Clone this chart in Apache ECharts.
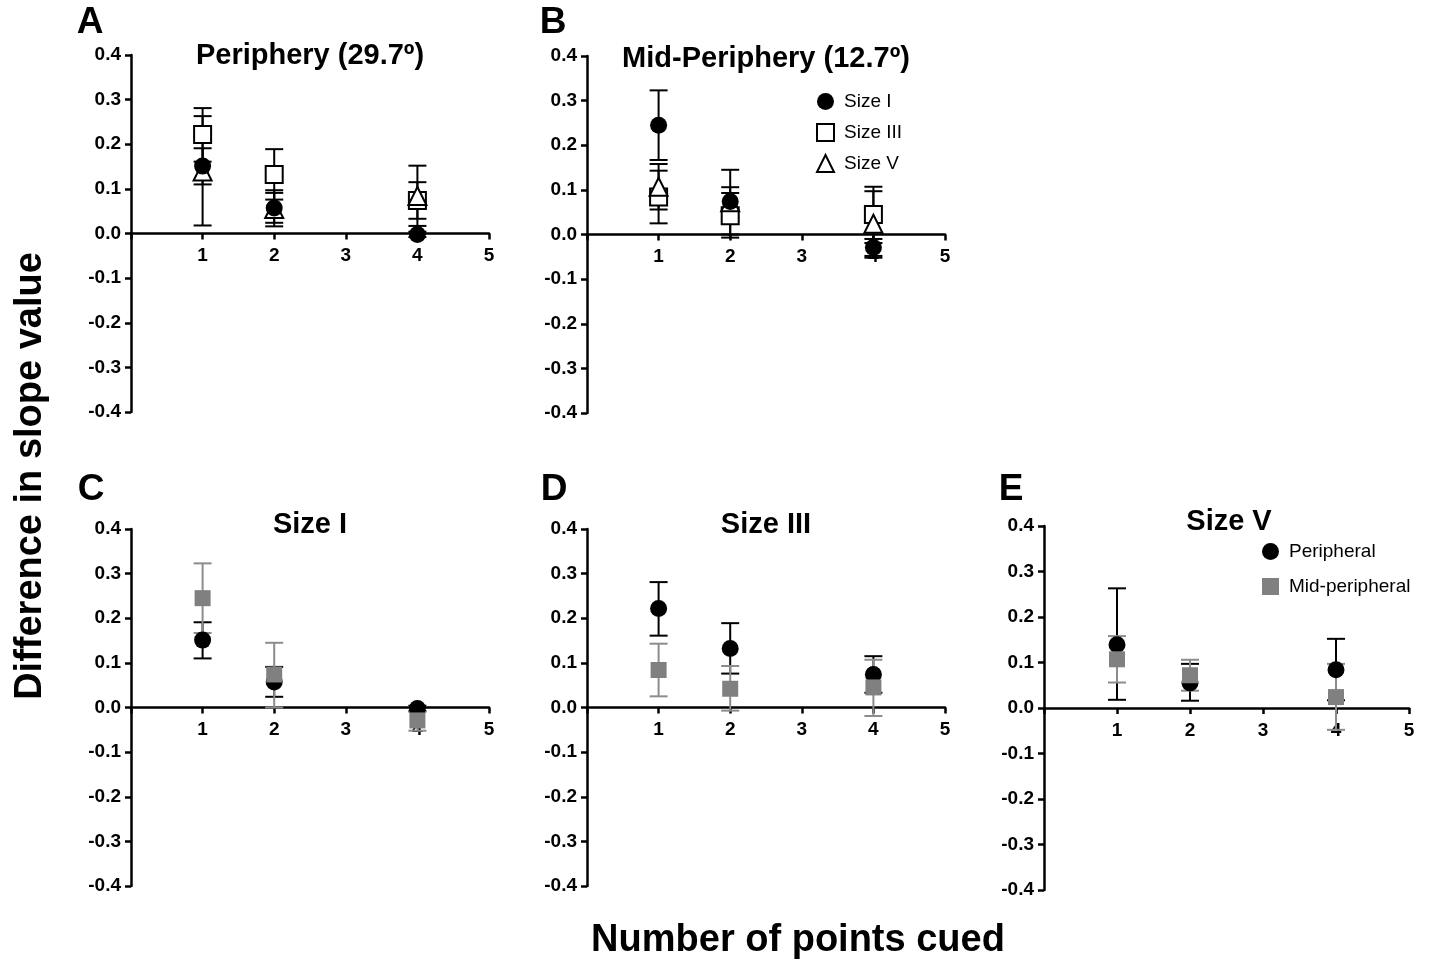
<!DOCTYPE html>
<html>
<head>
<meta charset="utf-8">
<script src="https://cdn.jsdelivr.net/npm/echarts@6/dist/echarts.min.js"></script>
<style>
html,body{margin:0;padding:0;background:#fff;}
#chart{width:1435px;height:962px;}
</style>
</head>
<body>
<div id="chart"></div>
<script>
// ---- data ----
const cuedPoints = [1, 2, 4];
const xTicks = [1, 2, 3, 4, 5];
const yTicks = [-0.4, -0.3, -0.2, -0.1, 0.0, 0.1, 0.2, 0.3, 0.4];

// Peripheral (29.7°)
const periI      = [0.151, 0.057, -0.002];
const periI_lo   = [0.110, 0.024, -0.008];
const periI_hi   = [0.191, 0.091, 0.004];
const periIII    = [0.222, 0.132, 0.074];
const periIII_lo = [0.161, 0.076, 0.033];
const periIII_hi = [0.281, 0.189, 0.115];
const periV      = [0.139, 0.055, 0.084];
const periV_lo   = [0.018, 0.016, 0.017];
const periV_hi   = [0.263, 0.097, 0.152];

// Mid-peripheral (12.7°)
const midI       = [0.245, 0.074, -0.029];
const midI_lo    = [0.167, 0.000, -0.052];
const midI_hi    = [0.323, 0.145, -0.010];
const midIII     = [0.084, 0.042, 0.045];
const midIII_lo  = [0.025, -0.007, -0.019];
const midIII_hi  = [0.143, 0.093, 0.107];
const midV       = [0.107, 0.072, 0.024];
const midV_lo    = [0.056, 0.038, -0.048];
const midV_hi    = [0.158, 0.106, 0.097];

const panelTitles = ['Periphery (29.7º)', 'Mid-Periphery (12.7º)', 'Size I', 'Size III', 'Size V'];
const panelLetters = ['A', 'B', 'C', 'D', 'E'];
const sizeNames = ['Size I', 'Size III', 'Size V'];
const regionNames = ['Peripheral', 'Mid-peripheral'];
const yAxisTitle = 'Difference in slope value';
const xAxisTitle = 'Number of points cued';

// ---- layout / style ----
const FONT = '"Liberation Sans", Arial, Helvetica, sans-serif';
const BLACK = '#000000';
const GRAY = '#808080';
const GRAY_BAR = '#8c8c8c';

const grids = [
  {left: 131, top: 55, width: 358, height: 357},
  {left: 587, top: 56, width: 358, height: 357},
  {left: 131, top: 529, width: 358, height: 357},
  {left: 587, top: 529, width: 358, height: 357},
  {left: 1044, top: 526, width: 365, height: 364}
];

const axisLineStyle = {color: BLACK, width: 2.5};

// x axis drawn through y = 0 (the middle of the symmetric y range)
const xAxes = grids.map((g, i) => ({
  type: 'value', gridIndex: i, min: 0, max: 5, interval: 1,
  position: 'bottom', offset: -g.height / 2,
  axisLine: {show: true, onZero: false, lineStyle: axisLineStyle},
  axisTick: {show: true, length: 6, lineStyle: {color: BLACK, width: 2.5}},
  axisLabel: {
    show: true, margin: 13, color: BLACK, fontSize: 19, fontWeight: 'bold', fontFamily: FONT,
    formatter: v => (xTicks.indexOf(Math.round(v)) >= 0 ? String(Math.round(v)) : '')
  },
  splitLine: {show: false}
}));

const yAxes = grids.map((g, i) => ({
  type: 'value', gridIndex: i, min: yTicks[0], max: yTicks[yTicks.length - 1], interval: 0.1,
  axisLine: {show: true, onZero: false, lineStyle: axisLineStyle},
  axisTick: {show: true, length: 6, lineStyle: {color: BLACK, width: 2.5}},
  axisLabel: {
    show: true, margin: 10, color: BLACK, fontSize: 19, fontWeight: 'bold', fontFamily: FONT,
    formatter: v => (Math.abs(v) < 1e-9 ? '0.0' : v.toFixed(1))
  },
  splitLine: {show: false}
}));

function errData(lo, hi) {
  return cuedPoints.map((x, k) => [x, lo[k], hi[k]]);
}
function ptData(vals) {
  return cuedPoints.map((x, k) => [x, vals[k]]);
}
function errSeries(panel, name, lo, hi, color) {
  return {
    type: 'custom', name: name + ' error', xAxisIndex: panel, yAxisIndex: panel,
    data: errData(lo, hi), encode: {x: 0, y: [1, 2]}, clip: false, silent: true,
    renderItem: function (params, api) {
      const x = api.value(0);
      const pLo = api.coord([x, api.value(1)]);
      const pHi = api.coord([x, api.value(2)]);
      const w = 9;
      const st = {stroke: color, lineWidth: 2};
      return {type: 'group', children: [
        {type: 'line', shape: {x1: pHi[0], y1: pHi[1], x2: pLo[0], y2: pLo[1]}, style: st},
        {type: 'line', shape: {x1: pHi[0] - w, y1: pHi[1], x2: pHi[0] + w, y2: pHi[1]}, style: st},
        {type: 'line', shape: {x1: pLo[0] - w, y1: pLo[1], x2: pLo[0] + w, y2: pLo[1]}, style: st}
      ]};
    }
  };
}
function ptSeries(panel, name, vals, symbol, size, fill, stroke) {
  return {
    type: 'scatter', name: name, xAxisIndex: panel, yAxisIndex: panel,
    data: ptData(vals), symbol: symbol, symbolSize: size, clip: false,
    itemStyle: {color: fill, borderColor: stroke, borderWidth: stroke ? 2 : 0, opacity: 1},
    emphasis: {disabled: true}
  };
}

const series = [
  // A: Periphery
  errSeries(0, 'Size III', periIII_lo, periIII_hi, BLACK),
  errSeries(0, 'Size V', periV_lo, periV_hi, BLACK),
  errSeries(0, 'Size I', periI_lo, periI_hi, BLACK),
  ptSeries(0, sizeNames[1], periIII, 'rect', 17, '#ffffff', BLACK),
  ptSeries(0, sizeNames[2], periV, 'triangle', 18, '#ffffff', BLACK),
  ptSeries(0, sizeNames[0], periI, 'circle', 17, BLACK, null),
  // B: Mid-Periphery
  errSeries(1, 'Size III', midIII_lo, midIII_hi, BLACK),
  errSeries(1, 'Size V', midV_lo, midV_hi, BLACK),
  errSeries(1, 'Size I', midI_lo, midI_hi, BLACK),
  ptSeries(1, sizeNames[1], midIII, 'rect', 17, '#ffffff', BLACK),
  ptSeries(1, sizeNames[2], midV, 'triangle', 18, '#ffffff', BLACK),
  ptSeries(1, sizeNames[0], midI, 'circle', 17, BLACK, null),
  // C: Size I
  errSeries(2, 'Peripheral', periI_lo, periI_hi, BLACK),
  ptSeries(2, regionNames[0], periI, 'circle', 17, BLACK, null),
  errSeries(2, 'Mid-peripheral', midI_lo, midI_hi, GRAY_BAR),
  ptSeries(2, regionNames[1], midI, 'rect', 16, GRAY, null),
  // D: Size III
  errSeries(3, 'Peripheral', periIII_lo, periIII_hi, BLACK),
  ptSeries(3, regionNames[0], periIII, 'circle', 17, BLACK, null),
  errSeries(3, 'Mid-peripheral', midIII_lo, midIII_hi, GRAY_BAR),
  ptSeries(3, regionNames[1], midIII, 'rect', 16, GRAY, null),
  // E: Size V
  errSeries(4, 'Peripheral', periV_lo, periV_hi, BLACK),
  ptSeries(4, regionNames[0], periV, 'circle', 17, BLACK, null),
  errSeries(4, 'Mid-peripheral', midV_lo, midV_hi, GRAY_BAR),
  ptSeries(4, regionNames[1], midV, 'rect', 16, GRAY, null)
];

const titlePos = [[310, 56], [766, 59], [310, 525], [766, 525], [1229, 522]];
const letterPos = [[90, 23], [553, 23], [91, 490], [554, 490], [1011, 490]];

const graphics = [];
panelTitles.forEach((t, i) => {
  graphics.push({type: 'text', x: titlePos[i][0], y: titlePos[i][1], silent: true,
    style: {text: t, fill: BLACK, font: 'bold 29px ' + FONT, textAlign: 'center', textVerticalAlign: 'middle'}});
});
panelLetters.forEach((t, i) => {
  graphics.push({type: 'text', x: letterPos[i][0], y: letterPos[i][1], silent: true,
    style: {text: t, fill: BLACK, font: 'bold 37px ' + FONT, textAlign: 'center', textVerticalAlign: 'middle'}});
});
graphics.push({type: 'text', x: 31, y: 476, rotation: Math.PI / 2, silent: true,
  style: {text: yAxisTitle, fill: BLACK, font: 'bold 38px ' + FONT, textAlign: 'center', textVerticalAlign: 'middle'}});
graphics.push({type: 'text', x: 798, y: 941, silent: true,
  style: {text: xAxisTitle, fill: BLACK, font: 'bold 38px ' + FONT, textAlign: 'center', textVerticalAlign: 'middle'}});

const option = {
  animation: false,
  backgroundColor: '#ffffff',
  textStyle: {fontFamily: FONT},
  grid: grids,
  xAxis: xAxes,
  yAxis: yAxes,
  legend: [
    {
      data: sizeNames, orient: 'vertical', left: 816, top: 92, padding: 0,
      itemWidth: 17, itemHeight: 17, itemGap: 12, selectedMode: false,
      textStyle: {fontSize: 19, color: BLACK, fontFamily: FONT, padding: [0, 0, 0, 5]}
    },
    {
      data: regionNames, orient: 'vertical', left: 1262, top: 542, padding: 0,
      itemWidth: 17, itemHeight: 17, itemGap: 16, selectedMode: false,
      textStyle: {fontSize: 19, color: BLACK, fontFamily: FONT, padding: [0, 0, 0, 5]}
    }
  ],
  graphic: graphics,
  series: series
};

const chart = echarts.init(document.getElementById('chart'), null, {renderer: 'canvas'});
chart.setOption(option);
</script>
</body>
</html>
